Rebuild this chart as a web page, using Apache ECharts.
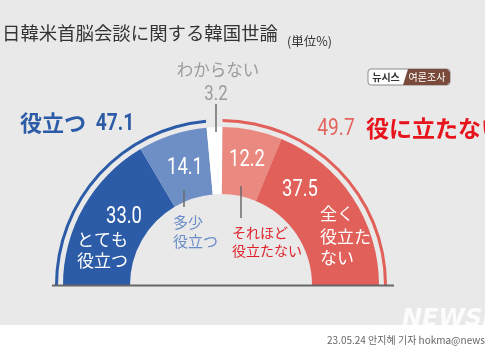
<!DOCTYPE html>
<html>
<head>
<meta charset="utf-8">
<script src="https://cdn.jsdelivr.net/npm/echarts@6/dist/echarts.min.js"></script>
<style>
html,body{margin:0;padding:0;background:#fff;}
#chart{width:485px;height:360px;}
</style>
</head>
<body>
<div id="chart"></div>
<script>
// ---- data ----
var categories = ['とても役立つ', '多少役立つ', 'わからない', 'それほど役立たない', '全く役立たない'];
var values = [33.0, 14.1, 3.2, 12.2, 37.5];
var groupNames = ['役立つ', 'わからない', '役に立たない'];
var groupValues = [47.1, 3.2, 49.7];
var titleText = '日韓米首脳会談に関する韓国世論';
var unitText = '(単位%)';
var footerText = '23.05.24 안지혜 기자 hokma@newsis.com';

var sliceColors = ['#2c5ca7', '#6e8ec6', '#ffffff', '#ea897f', '#e1605a'];
var groupColors = ['#2c5ca7', 'rgba(0,0,0,0)', '#e1605a'];

var JP = "'Noto Sans CJK JP', 'Noto Sans', sans-serif";
var KR = "'Noto Sans CJK KR', 'Noto Sans', sans-serif";
var NUM = "'Roboto', 'Liberation Sans', sans-serif";

function f1(v) { return v.toFixed(1); }

var chart = echarts.init(document.getElementById('chart'), null, {renderer: 'canvas'});

function txt(text, x, y, opt, sx) {
  return {
    type: 'text', x: x, y: y, silent: true, z: 20, scaleX: sx || 1,
    style: Object.assign({
      text: text, fill: '#fff', font: '16px ' + JP,
      textAlign: 'left', textVerticalAlign: 'middle'
    }, opt || {})
  };
}
function num(text, x, y, opt) {
  return txt(text, x, y, Object.assign({font: '23px ' + NUM, textAlign: 'center'}, opt || {}), 0.8);
}
function vline(x, y1, y2) {
  return {type: 'line', silent: true, z: 15,
    shape: {x1: x, y1: y1, x2: x, y2: y2},
    style: {stroke: '#6b6b6b', lineWidth: 1.5}};
}

var graphics = [
  {type: 'rect', z: -10, silent: true, shape: {x: 0, y: 0, width: 485, height: 325}, style: {fill: '#e9e9e9'}},
  txt(titleText, 2, 33, {fill: '#333', font: '18.4px ' + JP}),
  txt(unitText, 287, 41, {fill: '#333', font: '12.5px ' + JP}),
  // logo
  {type: 'rect', silent: true, z: 10, shape: {x: 368, y: 69, width: 82, height: 16, r: 3}, style: {fill: '#ffffff', stroke: '#8a8a8a', lineWidth: 1}},
  {type: 'polygon', silent: true, z: 11, shape: {points: [[408, 69], [447, 69], [450, 72], [450, 82], [447, 85], [403, 85]]}, style: {fill: '#7a4a3a'}},
  txt('뉴시스', 386, 77, {fill: '#333', font: 'bold 10px ' + KR, textAlign: 'center'}),
  txt('여론조사', 427, 77, {fill: '#fff', font: '10px ' + KR, textAlign: 'center'}),
  // don't know
  txt(categories[2], 218, 70, {fill: '#9b9b9b', font: '16.5px ' + JP, textAlign: 'center'}),
  num(f1(values[2]), 216, 95, {fill: '#9b9b9b', font: '21px ' + NUM}),
  vline(216, 104, 132),
  // group labels
  txt(groupNames[0], 20, 123, {fill: '#2c5ca7', font: 'bold 22px ' + JP}),
  num(f1(groupValues[0]), 115, 124, {fill: '#2c5ca7', font: 'bold 24px ' + NUM}),
  num(f1(groupValues[2]), 336, 129, {fill: '#e2665e', font: '24px ' + NUM}),
  txt(groupNames[2], 366, 128, {fill: '#e8141c', font: 'bold 23px ' + JP}),
  // inner values
  num(f1(values[0]), 124, 217),
  txt('とても', 77, 240, {font: '17px ' + JP}),
  txt('役立つ', 77, 261, {font: '17px ' + JP}),
  num(f1(values[1]), 185, 168),
  num(f1(values[3]), 247, 160),
  num(f1(values[4]), 300, 190),
  txt('全く', 320, 214, {font: '17px ' + JP}),
  txt('役立た', 320, 237, {font: '17px ' + JP}),
  txt('ない', 320, 258, {font: '17px ' + JP}),
  // outside inner labels
  vline(184, 190, 207),
  txt('多少', 173, 222, {fill: '#6a8cc8', font: '15px ' + JP}),
  txt('役立つ', 173, 241, {fill: '#6a8cc8', font: '15px ' + JP}),
  vline(241, 186, 218),
  txt('それほど', 232, 233, {fill: '#e0202a', font: '14px ' + JP}),
  txt('役立たない', 232, 251, {fill: '#e0202a', font: '14px ' + JP}),
  // baseline
  {type: 'line', silent: true, z: 16, shape: {x1: 52, y1: 285.5, x2: 394, y2: 285.5}, style: {stroke: '#666', lineWidth: 2}},
  // watermark + footer
  txt('NEWSIS', 402, 320, {fill: 'rgba(255,255,255,0.85)', font: 'italic bold 24px ' + "'DejaVu Sans', sans-serif"}),
  txt(footerText, 327, 340, {fill: '#666', font: '10px ' + KR})
];

var option = {
  animation: false,
  backgroundColor: '#ffffff',
  graphic: {elements: graphics},
  series: [
    {
      type: 'pie',
      center: [221, 285],
      radius: [91, 158],
      startAngle: 180,
      endAngle: 0,
      clockwise: true,
      silent: true,
      label: {show: false},
      labelLine: {show: false},
      emphasis: {disabled: true},
      itemStyle: {borderWidth: 0},
      data: categories.map(function (c, i) {
        return {name: c, value: values[i], itemStyle: {color: sliceColors[i]}};
      })
    },
    {
      type: 'pie',
      center: [221, 285],
      radius: [163, 166],
      startAngle: 180,
      endAngle: 0,
      clockwise: true,
      silent: true,
      label: {show: false},
      labelLine: {show: false},
      emphasis: {disabled: true},
      itemStyle: {borderWidth: 0},
      data: groupNames.map(function (g, i) {
        return {name: g, value: groupValues[i], itemStyle: {color: groupColors[i]}};
      })
    }
  ]
};
chart.setOption(option);
</script>
</body>
</html>
